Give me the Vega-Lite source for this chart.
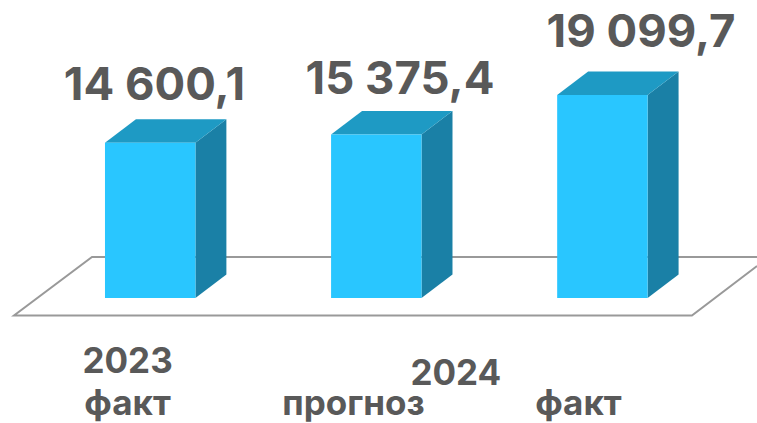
{"$schema":"https://vega.github.io/schema/vega-lite/v6.json","width":757,"height":423,"padding":0,"autosize":{"type":"none"},"background":"white","config":{"view":{"stroke":null}},
"datasets":{
"bars":[{"period":"2023 факт","x1":0.8,"x2":1.2,"value":14600.1},{"period":"2024 прогноз","x1":1.8,"x2":2.2,"value":15375.4},{"period":"2024 факт","x1":2.8,"x2":3.2,"value":19099.7}],
"floor":[{"o":1,"x":3.684,"y":3858},{"o":2,"x":0.7426,"y":3858},{"o":3,"x":0.3977,"y":-1647},{"o":4,"x":3.396,"y":-1647},{"o":5,"x":3.684,"y":3011}],
"side":[{"period":"2023 факт","x":1.2,"hi":14600.1,"lo":0},{"period":"2023 факт","x":1.337,"hi":16811.1,"lo":2211},{"period":"2024 прогноз","x":2.2,"hi":15375.4,"lo":0},{"period":"2024 прогноз","x":2.337,"hi":17586.4,"lo":2211},{"period":"2024 факт","x":3.2,"hi":19099.7,"lo":0},{"period":"2024 факт","x":3.337,"hi":21310.7,"lo":2211}],
"top":[{"period":"2023 факт","x":0.8,"hi":14600.1,"lo":14600.1},{"period":"2023 факт","x":0.937,"hi":16811.1,"lo":14600.1},{"period":"2023 факт","x":1.2,"hi":16811.1,"lo":14600.1},{"period":"2023 факт","x":1.337,"hi":16811.1,"lo":16811.1},{"period":"2024 прогноз","x":1.8,"hi":15375.4,"lo":15375.4},{"period":"2024 прогноз","x":1.937,"hi":17586.4,"lo":15375.4},{"period":"2024 прогноз","x":2.2,"hi":17586.4,"lo":15375.4},{"period":"2024 прогноз","x":2.337,"hi":17586.4,"lo":17586.4},{"period":"2024 факт","x":2.8,"hi":19099.7,"lo":19099.7},{"period":"2024 факт","x":2.937,"hi":21310.7,"lo":19099.7},{"period":"2024 факт","x":3.2,"hi":21310.7,"lo":19099.7},{"period":"2024 факт","x":3.337,"hi":21310.7,"lo":21310.7}],
"valueLabels":[{"text":"14 600,1","x":1.019,"y":18632},{"text":"15 375,4","x":2.105,"y":19196},{"text":"19 099,7","x":3.171,"y":23666}],
"catLabels":[{"text":"2023","x":0.9,"y":-7010},{"text":"факт","x":0.9,"y":-11010},{"text":"прогноз","x":1.899,"y":-11010},{"text":"2024","x":2.352,"y":-8187},{"text":"факт","x":2.894,"y":-11010}]
},
"layer":[
{"data":{"name":"floor"},"mark":{"type":"line","color":"#999999","strokeWidth":2,"interpolate":"linear"},"encoding":{"x":{"field":"x","type":"quantitative","scale":{"domain":[0.3357,3.6838],"nice":false,"zero":false},"axis":null},"y":{"field":"y","type":"quantitative","scale":{"domain":[-11762,28042],"nice":false,"zero":false},"axis":null},"order":{"field":"o","type":"quantitative"}}},
{"data":{"name":"side"},"mark":{"type":"area","color":"#1A80A6"},"encoding":{"x":{"field":"x","type":"quantitative","scale":{"domain":[0.3357,3.6838],"nice":false,"zero":false},"axis":null},"y":{"field":"hi","type":"quantitative","scale":{"domain":[-11762,28042],"nice":false,"zero":false},"axis":null},"y2":{"field":"lo"},"detail":{"field":"period"}}},
{"data":{"name":"top"},"mark":{"type":"area","color":"#1E9AC4"},"encoding":{"x":{"field":"x","type":"quantitative","scale":{"domain":[0.3357,3.6838],"nice":false,"zero":false},"axis":null},"y":{"field":"hi","type":"quantitative","scale":{"domain":[-11762,28042],"nice":false,"zero":false},"axis":null},"y2":{"field":"lo"},"detail":{"field":"period"}}},
{"data":{"name":"bars"},"mark":{"type":"rect","color":"#29C6FF"},"encoding":{"x":{"field":"x1","type":"quantitative","scale":{"domain":[0.3357,3.6838],"nice":false,"zero":false},"axis":null},"x2":{"field":"x2"},"y":{"field":"value","type":"quantitative","scale":{"domain":[-11762,28042],"nice":false,"zero":false},"axis":null},"y2":{"datum":0}}},
{"data":{"name":"valueLabels"},"mark":{"type":"text","font":"Inter","fontWeight":700,"fontSize":45.5,"color":"#595959","align":"center","baseline":"alphabetic"},"encoding":{"x":{"field":"x","type":"quantitative","scale":{"domain":[0.3357,3.6838],"nice":false,"zero":false},"axis":null},"y":{"field":"y","type":"quantitative","scale":{"domain":[-11762,28042],"nice":false,"zero":false},"axis":null},"text":{"field":"text"}}},
{"data":{"name":"catLabels"},"mark":{"type":"text","font":"Inter","fontWeight":700,"fontSize":35,"color":"#595959","align":"center","baseline":"alphabetic"},"encoding":{"x":{"field":"x","type":"quantitative","scale":{"domain":[0.3357,3.6838],"nice":false,"zero":false},"axis":null},"y":{"field":"y","type":"quantitative","scale":{"domain":[-11762,28042],"nice":false,"zero":false},"axis":null},"text":{"field":"text"}}}
]}
